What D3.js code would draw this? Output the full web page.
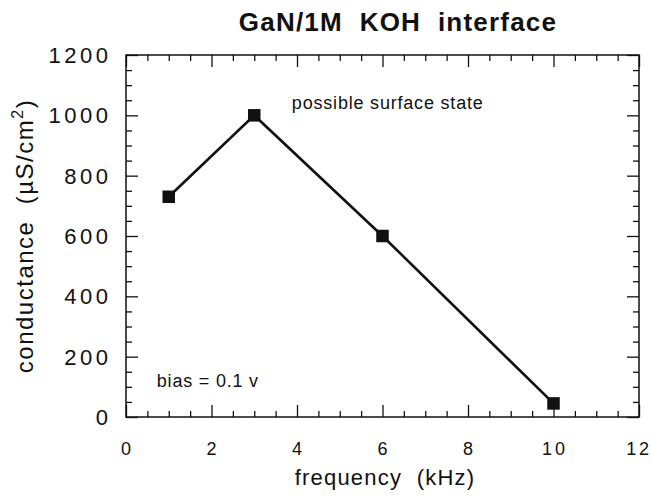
<!DOCTYPE html>
<html>
<head>
<meta charset="utf-8">
<script src="https://cdn.jsdelivr.net/npm/d3@7"></script>
<style>
  html, body { margin: 0; padding: 0; background: #fff; }
  svg { display: block; font-family: "Liberation Sans", Arial, Helvetica, sans-serif; }
  text { white-space: pre; }
</style>
</head>
<body>
<svg id="chart" width="651" height="498"></svg>
<script>
// ---- data ----
const frequency = [1, 3, 6, 10];          // kHz
const conductance = [730, 1000, 600, 45]; // µS/cm²
const xTickValues = [0, 2, 4, 6, 8, 10, 12];
const yTickValues = [0, 200, 400, 600, 800, 1000, 1200];
const titleText = "GaN/1M  KOH  interface";
const xLabel = "frequency  (kHz)";
const annotations = [
  { text: "possible surface state", x: 3.88, y: 1020 },
  { text: "bias = 0.1 v", x: 0.72, y: 100 }
];

const svg = d3.select("#chart");
const margin = { left: 126, right: 12, top: 55, bottom: 81 };
const W = 651, H = 498;
const x = d3.scaleLinear().domain([0, 12]).range([margin.left, W - margin.right]);
const y = d3.scaleLinear().domain([0, 1200]).range([H - margin.bottom, margin.top]);

const ink = "#111";

// frame
svg.append("rect")
  .attr("x", x(0)).attr("y", y(1200))
  .attr("width", x(12) - x(0)).attr("height", y(0) - y(1200))
  .attr("fill", "none").attr("stroke", ink).attr("stroke-width", 1.5);

const xMinor = d3.range(0, 12.01, 0.5).filter(v => v % 2 !== 0);
const yMinor = d3.range(0, 1200.1, 50).filter(v => v % 200 !== 0);

function styleAxis(g) {
  g.select(".domain").remove();
  g.selectAll("line").attr("stroke", ink).attr("stroke-width", 1.3);
}

// major/minor ticks on four sides (inward)
svg.append("g").attr("transform", `translate(0,${y(0)})`)
  .call(d3.axisBottom(x).tickValues(xTickValues).tickSize(-12).tickFormat(""))
  .call(styleAxis);
svg.append("g").attr("transform", `translate(0,${y(0)})`)
  .call(d3.axisBottom(x).tickValues(xMinor).tickSize(-6).tickFormat(""))
  .call(styleAxis);
svg.append("g").attr("transform", `translate(0,${y(1200)})`)
  .call(d3.axisTop(x).tickValues(xTickValues).tickSize(-12).tickFormat(""))
  .call(styleAxis);
svg.append("g").attr("transform", `translate(0,${y(1200)})`)
  .call(d3.axisTop(x).tickValues(xMinor).tickSize(-6).tickFormat(""))
  .call(styleAxis);
svg.append("g").attr("transform", `translate(${x(0)},0)`)
  .call(d3.axisLeft(y).tickValues(yTickValues).tickSize(-12).tickFormat(""))
  .call(styleAxis);
svg.append("g").attr("transform", `translate(${x(0)},0)`)
  .call(d3.axisLeft(y).tickValues(yMinor).tickSize(-6).tickFormat(""))
  .call(styleAxis);
svg.append("g").attr("transform", `translate(${x(12)},0)`)
  .call(d3.axisRight(y).tickValues(yTickValues).tickSize(-12).tickFormat(""))
  .call(styleAxis);
svg.append("g").attr("transform", `translate(${x(12)},0)`)
  .call(d3.axisRight(y).tickValues(yMinor).tickSize(-6).tickFormat(""))
  .call(styleAxis);

// tick labels (x): letter-spaced, last one kept inside the page
const xl = svg.append("g").selectAll("text").data(xTickValues).join("text")
  .attr("y", 455)
  .attr("font-size", 18).attr("letter-spacing", 2.8)
  .attr("fill", ink)
  .text(d => d);
xl.each(function (d) {
  const w = this.getComputedTextLength() - 2.8; // visible width
  let left = x(d) - w / 2;
  if (left + w > W - 2) left = W - 2 - w;
  d3.select(this).attr("x", left);
});

// tick labels (y)
svg.append("g").selectAll("text").data(yTickValues).join("text")
  .attr("x", 111.5).attr("y", d => y(d) + 8)
  .attr("text-anchor", "end")
  .attr("font-size", 22).attr("letter-spacing", 3.5)
  .attr("fill", ink)
  .text(d => d);

// line + markers
const pts = frequency.map((f, i) => [f, conductance[i]]);
svg.append("path").datum(pts)
  .attr("fill", "none").attr("stroke", ink).attr("stroke-width", 2.6)
  .attr("d", d3.line().x(d => x(d[0])).y(d => y(d[1])));
const ms = 12.5;
svg.append("g").selectAll("rect").data(pts).join("rect")
  .attr("x", d => x(d[0]) - ms / 2).attr("y", d => y(d[1]) - ms / 2)
  .attr("width", ms).attr("height", ms).attr("fill", ink);

// annotations
svg.append("g").selectAll("text").data(annotations).join("text")
  .attr("x", d => x(d.x)).attr("y", d => y(d.y))
  .attr("font-size", 18).attr("letter-spacing", 0.8)
  .attr("fill", ink)
  .text(d => d.text);

// title
svg.append("text")
  .attr("x", 398).attr("y", 31)
  .attr("text-anchor", "middle")
  .attr("font-size", 26).attr("font-weight", "bold").attr("letter-spacing", 1.2)
  .attr("fill", ink)
  .text(titleText);

// x axis title
svg.append("text")
  .attr("x", 385).attr("y", 485)
  .attr("text-anchor", "middle")
  .attr("font-size", 22).attr("letter-spacing", 1.2)
  .attr("fill", ink)
  .text(xLabel);

// y axis title
const yl = svg.append("text")
  .attr("transform", `translate(33,236) rotate(-90)`)
  .attr("text-anchor", "middle")
  .attr("font-size", 24).attr("letter-spacing", 1.5)
  .attr("fill", ink);
yl.append("tspan").text("conductance  (µS/cm");
yl.append("tspan").attr("dy", -10).attr("font-size", 16).text("2");
yl.append("tspan").attr("dy", 10).text(")");
</script>
</body>
</html>
